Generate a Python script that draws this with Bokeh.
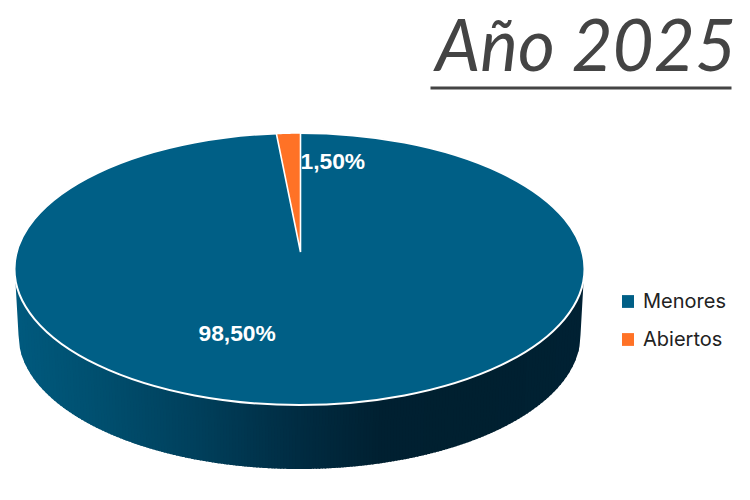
import numpy as np
from bokeh.plotting import figure
from bokeh.models import Legend, LegendItem
from bokeh.core.properties import value
from bokeh.embed import file_html
from bokeh.resources import INLINE

title = "Año 2025"
categories = ["Menores", "Abiertos"]
values = [98.50, 1.50]
value_labels = ["98,50%", "1,50%"]
colors = ["#005F86", "#FF7226"]

# side-wall shading stops (horizontal position in the pie, colour)
side_stops_t = [0.0, 0.14, 0.32, 0.50, 0.64, 0.80, 1.0]
side_stops_rgb = [(0, 90, 126), (0, 80, 112), (0, 64, 92), (0, 44, 66), (0, 33, 50), (0, 32, 48), (0, 34, 52)]

CX, CY, RX, RY = 300, 269, 285, 136
BCY, BRX, BRY = 335, 281, 134
APEX_Y = 252
SLICE_CX = 301

p = figure(width=750, height=500, x_range=(1, 751), y_range=(500.5, 0.5),
           output_backend="svg", toolbar_location=None, min_border=0,
           x_axis_type=None, y_axis_type=None, outline_line_color=None)
p.grid.visible = False

# side wall
ts = np.linspace(0, 1, 190)
xs, ys, cols = [], [], []
def wall_y(x):
    u = np.clip((x - CX) / RX, -1, 1)
    return CY + RY * np.sqrt(1 - u * u)
def base_y(x):
    u = np.clip((x - CX) / BRX, -1, 1)
    return BCY + BRY * np.sqrt(1 - u * u)
for a, b in zip(ts[:-1], ts[1:]):
    x0, x1 = CX - RX + a * 2 * RX, CX - RX + b * 2 * RX + 1.2
    x1 = min(x1, CX + RX)
    n = np.linspace(x0, x1, 4)
    bx = CX + (n - CX) * BRX / RX
    top_y = wall_y(n) - 4
    bot_y = base_y(bx)
    xs.append(list(n) + list(bx[::-1]))
    ys.append(list(top_y) + list(bot_y[::-1]))
    m = (a + b) / 2
    c = [int(np.interp(m, side_stops_t, [s[i] for s in side_stops_rgb])) for i in range(3)]
    cols.append("#%02x%02x%02x" % tuple(c))
p.patches(xs, ys, fill_color=cols, line_color=None)

# top face
p.ellipse(x=[CX], y=[CY], width=[2 * RX], height=[2 * RY], fill_color=colors[0],
          line_color="white", line_width=2)

# small slice, running anticlockwise from twelve o'clock
sweep = 2 * np.pi * values[1] / 100 * 0.9
t = np.linspace(0, sweep, 12)
sx = SLICE_CX - RX * np.sin(t)
sy = CY - RY * np.cos(t)
p.patch(list(sx) + [SLICE_CX], list(sy) + [APEX_Y], fill_color=colors[1], line_color="white", line_width=1.6)

# value labels
p.text(x=[199, 301], y=[332.5, 161], text=value_labels, text_color="white",
       text_font=value("Liberation Sans"), text_font_style="bold", text_font_size="22.8px",
       text_align="left", text_baseline="middle")

# title and rule
p.text(x=[436], y=[43], text=[title], text_color="#444444", text_font=value("Lato"),
       text_font_style="italic", text_font_size="71px", text_align="left", text_baseline="middle")
p.segment(x0=[431], x1=[732], y0=[88], y1=[88], line_color="#444444", line_width=3)

# legend
nan = float("nan")
r0 = p.quad(left=[nan], right=[nan], top=[nan], bottom=[nan], fill_color=colors[0], line_color=None)
r1 = p.quad(left=[nan], right=[nan], top=[nan], bottom=[nan], fill_color=colors[1], line_color=None)
legend = Legend(items=[LegendItem(label=categories[0], renderers=[r0]),
                       LegendItem(label=categories[1], renderers=[r1])],
                location=(620, 149), orientation="vertical", background_fill_alpha=0,
                border_line_color=None, glyph_width=15, glyph_height=16, spacing=14,
                padding=0, margin=0, label_standoff=8,
                label_text_font="Inter", label_text_font_size="20px", label_text_color="#222222",
                label_height=16)
p.add_layout(legend)

open("out.html", "w").write(file_html(p, INLINE))
